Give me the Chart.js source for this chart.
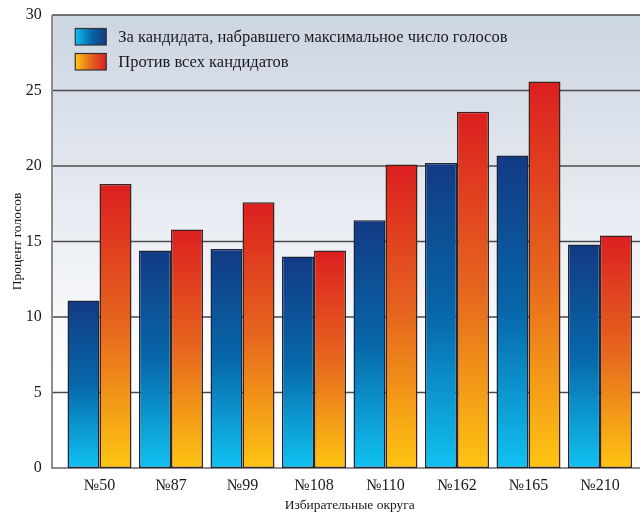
<!DOCTYPE html>
<html>
<head>
<meta charset="utf-8">
<script src="https://cdn.jsdelivr.net/npm/chart.js@4.4.0/dist/chart.umd.min.js"></script>
<style>
  html, body { margin: 0; padding: 0; background: #fff; }
  #wrap { width: 640px; height: 514px; position: relative; }
</style>
</head>
<body>
<div id="wrap"><canvas id="chart"></canvas></div>
<script>
// data
const categories = ['№50', '№87', '№99', '№108', '№110', '№162', '№165', '№210'];
const forCandidate = [11.1, 14.4, 14.5, 14.0, 16.4, 20.2, 20.7, 14.8];
const againstAll = [18.8, 15.8, 17.6, 14.4, 20.1, 23.6, 25.6, 15.4];
const yTicks = [0, 5, 10, 15, 20, 25, 30];
const seriesLabels = [
  'За кандидата, набравшего максимальное число голосов',
  'Против всех кандидатов'
];

const serif = "'Liberation Serif', 'Times New Roman', serif";
const blueStops = ['#123a84', '#0767a9', '#10c2f2'];
const orangeStops = ['#dc1f20', '#e6661e', '#fec512'];

function barGradient(stops) {
  return function (ctx) {
    const chart = ctx.chart;
    if (!chart.chartArea || ctx.type !== 'data') return stops[1];
    const y = chart.scales.y;
    const top = y.getPixelForValue(ctx.parsed.y);
    const base = y.getPixelForValue(0);
    const g = chart.ctx.createLinearGradient(0, top, 0, base);
    g.addColorStop(0, stops[0]);
    g.addColorStop(0.5, stops[1]);
    g.addColorStop(1, stops[2]);
    return g;
  };
}

// plot background, grid lines and axis line (drawn behind the bars)
const plotFrame = {
  id: 'plotFrame',
  beforeDatasetsDraw(chart) {
    const { ctx, chartArea, scales } = chart;
    const left = chartArea.left - 11.75;
    const right = chart.width;
    ctx.save();
    const bg = ctx.createLinearGradient(0, chartArea.top, 0, chartArea.bottom);
    bg.addColorStop(0, '#ccd5e2');
    bg.addColorStop(0.8, '#ffffff');
    bg.addColorStop(1, '#ffffff');
    ctx.fillStyle = bg;
    ctx.fillRect(left, chartArea.top, right - left, chartArea.bottom - chartArea.top);

    yTicks.forEach(function (v) {
      const py = scales.y.getPixelForValue(v);
      ctx.beginPath();
      ctx.strokeStyle = v === 0 ? '#8c8c8c' : '#4a4a4a';
      ctx.lineWidth = v === 0 ? 2 : 1.5;
      ctx.moveTo(left, py);
      ctx.lineTo(right, py);
      ctx.stroke();
    });

    ctx.beginPath();
    ctx.strokeStyle = '#8c8c8c';
    ctx.lineWidth = 2;
    ctx.moveTo(left, chartArea.top);
    ctx.lineTo(left, chartArea.bottom + 1);
    ctx.stroke();
    ctx.restore();
  }
};

// legend inside the plot area
const innerLegend = {
  id: 'innerLegend',
  afterDraw(chart) {
    const { ctx, chartArea } = chart;
    const x = chartArea.left + 11.5;
    const stops = [blueStops, orangeStops];
    ctx.save();
    chart.data.datasets.forEach(function (ds, i) {
      const y = chartArea.top + 13.5 + i * 25;
      const g = ctx.createLinearGradient(x, 0, x + 31, 0);
      g.addColorStop(0, stops[i][2]);
      g.addColorStop(0.5, stops[i][1]);
      g.addColorStop(1, stops[i][0]);
      ctx.fillStyle = g;
      ctx.fillRect(x, y, 31, 16.5);
      ctx.strokeStyle = '#333';
      ctx.lineWidth = 1.2;
      ctx.strokeRect(x, y, 31, 16.5);
      ctx.fillStyle = '#1a1a1a';
      ctx.font = '16.5px ' + serif;
      ctx.textBaseline = 'middle';
      ctx.fillText(ds.label, x + 43, y + 9);
    });
    ctx.restore();
  }
};

new Chart(document.getElementById('chart').getContext('2d'), {
  type: 'bar',
  data: {
    labels: categories,
    datasets: [{
      label: seriesLabels[0],
      data: forCandidate,
      backgroundColor: barGradient(blueStops),
      borderColor: '#1e2536',
      borderWidth: 1.5,
      borderSkipped: false,
      categoryPercentage: 0.895,
      barPercentage: 1
    }, {
      label: seriesLabels[1],
      data: againstAll,
      backgroundColor: barGradient(orangeStops),
      borderColor: '#3a2420',
      borderWidth: 1.5,
      borderSkipped: false,
      categoryPercentage: 0.895,
      barPercentage: 1
    }]
  },
  options: {
    responsive: true,
    maintainAspectRatio: false,
    animation: false,
    layout: { padding: { top: 15, right: 4.25, bottom: 0, left: 0 } },
    plugins: {
      legend: { display: false },
      tooltip: { enabled: false }
    },
    scales: {
      x: {
        grid: { display: false, drawTicks: false },
        border: { display: false },
        ticks: { color: '#1a1a1a', padding: 8, font: { family: serif, size: 16 } },
        title: {
          display: true,
          text: 'Избирательные округа',
          color: '#1a1a1a',
          padding: { top: 0, bottom: 0 },
          font: { family: serif, size: 13.5 }
        },
        afterFit(scale) { scale.height = 46; }
      },
      y: {
        min: 0,
        max: 30,
        grid: { display: false, drawTicks: false },
        border: { display: false },
        ticks: {
          stepSize: 5,
          padding: 22,
          color: '#1a1a1a',
          font: { family: serif, size: 16 }
        },
        title: {
          display: true,
          text: 'Процент голосов',
          color: '#1a1a1a',
          padding: { top: 9, bottom: 0 },
          font: { family: serif, size: 13.5 }
        },
        afterFit(scale) {
          scale.width = 63.75;
          scale.paddingTop = 0;
          scale.paddingBottom = 0;
        }
      }
    }
  },
  plugins: [plotFrame, innerLegend]
});
</script>
</body>
</html>
